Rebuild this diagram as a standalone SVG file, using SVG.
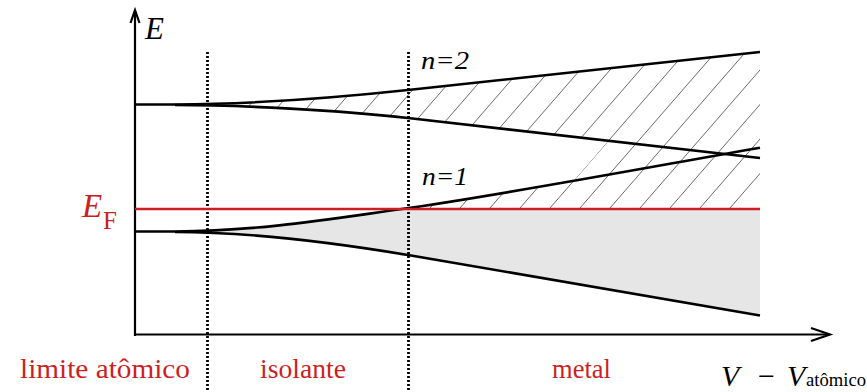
<svg xmlns="http://www.w3.org/2000/svg" width="867" height="392" viewBox="0 0 867 392">
<style>
.edge{fill:none;stroke:#000;stroke-width:2.6;stroke-linejoin:round}
.axis{fill:none;stroke:#000;stroke-width:2.2}
.dot{fill:none;stroke:#000;stroke-width:2.8;stroke-dasharray:2 2}
.hatch{fill:none;stroke:#444;stroke-width:0.8}
.red{fill:#cc1f1f}
</style>
<defs>
<clipPath id="hclip">
<path d="M175,104.5 C260,104 340,97.3 408,90 L760,52 L760,158 L408,118 C340,110.3 240,105 175,105 Z"/>
<path d="M400,209.3 C500,195.3 650,167 760,147.7 L760,209 Z"/>
<path d="M550,208 L640,104.5 L760,104.5 L760,209 Z"/>
</clipPath>
</defs>
<rect width="867" height="392" fill="#fff"/>
<g id="fill">
<path d="M175,231.5 C260,231 330,219 400,209.3 L760,209 L760,315.5 L408,255 C330,242 250,232 175,232 Z" fill="#e6e6e6"/>
</g>
<g id="hatching" clip-path="url(#hclip)">
<path class="hatch" d="M24.8,260L216.1,40M54.8,260L246.1,40M84.8,260L276.1,40M114.8,260L306.1,40M144.8,260L336.1,40M174.8,260L366.1,40M204.8,260L396.1,40M234.8,260L426.1,40M264.8,260L456.1,40M294.8,260L486.1,40M324.8,260L516.1,40M354.8,260L546.1,40M384.8,260L576.1,40M414.8,260L606.1,40M444.8,260L636.1,40M474.8,260L666.1,40M504.8,260L696.1,40M534.8,260L726.1,40M564.8,260L756.1,40M594.8,260L786.1,40M624.8,260L816.1,40M654.8,260L846.1,40M684.8,260L876.1,40M714.8,260L906.1,40M744.8,260L936.1,40"/>
</g>
<g id="connectors">
<g id="axes">
<path class="axis" d="M135,336 L135,11"/>
<path class="axis" d="M130.5,23 L135,10 L139.5,23"/>
<path class="axis" d="M134,334.5 L829,334.5"/>
<path class="axis" d="M811,328 L830,334.5 L811,341"/>
</g>
<g id="dividers">
<path class="dot" d="M207.5,52 L207.5,392"/>
<path class="dot" d="M408.5,52 L408.5,392"/>
</g>
<g id="band-n2">
<path class="edge" d="M135,104.5 L175,104.5 C260,104 340,97.3 408,90 L760,52"/>
<path class="edge" d="M175,105 C240,105 340,110.3 408,118 L760,158"/>
</g>
<g id="band-n1">
<path class="edge" d="M135,231.5 L175,231.5 C260,231 330,219 400,209.3 C500,195.3 650,167 760,147.7"/>
<path class="edge" d="M175,232 C250,232 330,242 408,255 L760,315.5"/>
</g>
<g id="fermi">
<path d="M135,209 L760,209" fill="none" stroke="#cc1f1f" stroke-width="2.6"/>
</g>
</g>
<g font-family="'Liberation Serif', 'Times New Roman', serif">
<g id="label-E"><text x="145" y="39" font-size="31" font-style="italic">E</text></g>
<g id="label-n2"><text x="421" y="69" font-size="25" font-style="italic" textLength="48" lengthAdjust="spacingAndGlyphs">n=2</text></g>
<g id="label-n1"><text x="422" y="185" font-size="25" font-style="italic" textLength="46" lengthAdjust="spacingAndGlyphs">n=1</text></g>
<g id="label-EF"><text class="red" x="82" y="217" font-size="33" font-style="italic">E</text><text class="red" x="103" y="229" font-size="25">F</text></g>
<g id="label-limite"><text class="red" x="20" y="378" font-size="28" textLength="170" lengthAdjust="spacingAndGlyphs">limite atômico</text></g>
<g id="label-isolante"><text class="red" x="260" y="378" font-size="28" textLength="86" lengthAdjust="spacingAndGlyphs">isolante</text></g>
<g id="label-metal"><text class="red" x="552" y="378" font-size="28" textLength="59" lengthAdjust="spacingAndGlyphs">metal</text></g>
<g id="label-V"><text x="721" y="386" font-size="30" font-style="italic">V</text><text x="758" y="386" font-size="30">−</text><text x="787" y="386" font-size="30" font-style="italic">V</text><text x="806" y="386" font-size="19" textLength="60" lengthAdjust="spacingAndGlyphs">atômico</text></g>
</g>
</svg>
